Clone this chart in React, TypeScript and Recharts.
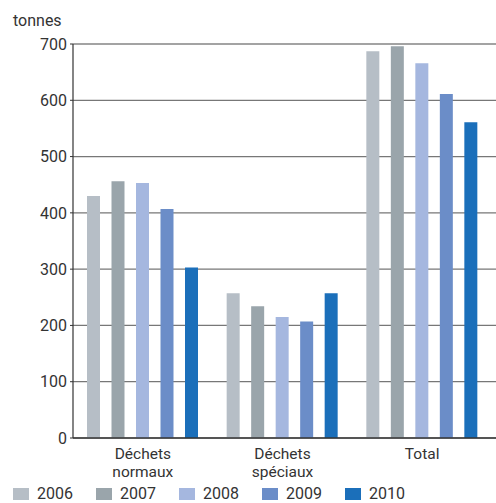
import React from "react";
import { BarChart, Bar, XAxis, YAxis, CartesianGrid, Legend, ReferenceLine } from "recharts";

const categories = ["Déchets normaux", "Déchets spéciaux", "Total"];
const categoryLines = [["Déchets", "normaux"], ["Déchets", "spéciaux"], ["Total"]];
const years = ["2006", "2007", "2008", "2009", "2010"];
const colors = ["#b6bec6", "#9aa5ab", "#a5b7df", "#6b8dc8", "#1b6fba"];
const v2006 = [430, 257, 687];
const v2007 = [456, 234, 696];
const v2008 = [453, 215, 666];
const v2009 = [407, 207, 611];
const v2010 = [303, 257, 561];
const yTicks = [0, 100, 200, 300, 400, 500, 600, 700];
const unitLabel = "tonnes";

const seriesValues = [v2006, v2007, v2008, v2009, v2010];
const data = categories.map((c, i) => {
  const row: Record<string, string | number> = { name: c };
  years.forEach((y, k) => {
    row[y] = seriesValues[k][i];
  });
  return row;
});

const FONT = "Roboto, 'DejaVu Sans', sans-serif";

const XTick = (props: any) => {
  const { x, y, payload } = props;
  const idx = categories.indexOf(payload.value);
  const lines = categoryLines[idx] || [payload.value];
  return (
    <g>
      {lines.map((l, i) => (
        <text key={i} x={x} y={y + 13 + i * 18} textAnchor="middle" fill="#333" fontSize={15.5} fontFamily={FONT}>
          {l}
        </text>
      ))}
    </g>
  );
};

const LegendContent = (props: any) => {
  const { payload } = props;
  return (
    <div style={{ display: "flex", paddingLeft: 13, paddingTop: 3, fontFamily: FONT, fontSize: 16, lineHeight: "16px", color: "#333", height: 16, alignItems: "center" }}>
      {(payload || []).map((p: any, i: number) => (
        <div key={i} style={{ width: 83, height: 16, display: "flex", alignItems: "center" }}>
          <span style={{ display: "inline-block", width: 16, height: 12, background: p.color, marginRight: 8 }} />
          <span style={{ lineHeight: "16px" }}>{p.value}</span>
        </div>
      ))}
    </div>
  );
};

export default function App() {
  return (
    <div style={{ position: "relative", width: 496, height: 503, background: "#fff" }}>
      <style>{`body{margin:0;}`}</style>
      <div style={{ position: "absolute", left: 13, top: 11, fontFamily: FONT, fontSize: 16, color: "#333" }}>{unitLabel}</div>
      <BarChart
        width={496}
        height={503}
        data={data}
        margin={{ top: 44, right: 0, left: 0, bottom: 0 }}
        barSize={13}
        barGap={11.5}
        style={{ fontFamily: FONT }}
      >
        <CartesianGrid horizontal vertical={false} stroke="#777" strokeWidth={1.2} />
        <ReferenceLine y={700} stroke="#a3a3a3" strokeWidth={2} />
        <XAxis
          dataKey="name"
          height={45}
          tick={<XTick />}
          tickLine={false}
          axisLine={{ stroke: "#333", strokeWidth: 1.5 }}
          interval={0}
          padding={{ left: 0, right: 4 }}
        />
        <YAxis
          width={73}
          domain={[0, 700]}
          ticks={yTicks}
          tick={{ fill: "#333", fontSize: 16, fontFamily: FONT }}
          tickSize={3}
          tickMargin={3}
          tickLine={{ stroke: "#333" }}
          axisLine={{ stroke: "#333", strokeWidth: 1.2 }}
          interval={0}
        />
        <Legend verticalAlign="bottom" height={20} content={<LegendContent />} wrapperStyle={{ bottom: 0, left: 0 }} />
        {years.map((y, k) => (
          <Bar key={y} dataKey={y} fill={colors[k]} isAnimationActive={false} />
        ))}
      </BarChart>
    </div>
  );
}
